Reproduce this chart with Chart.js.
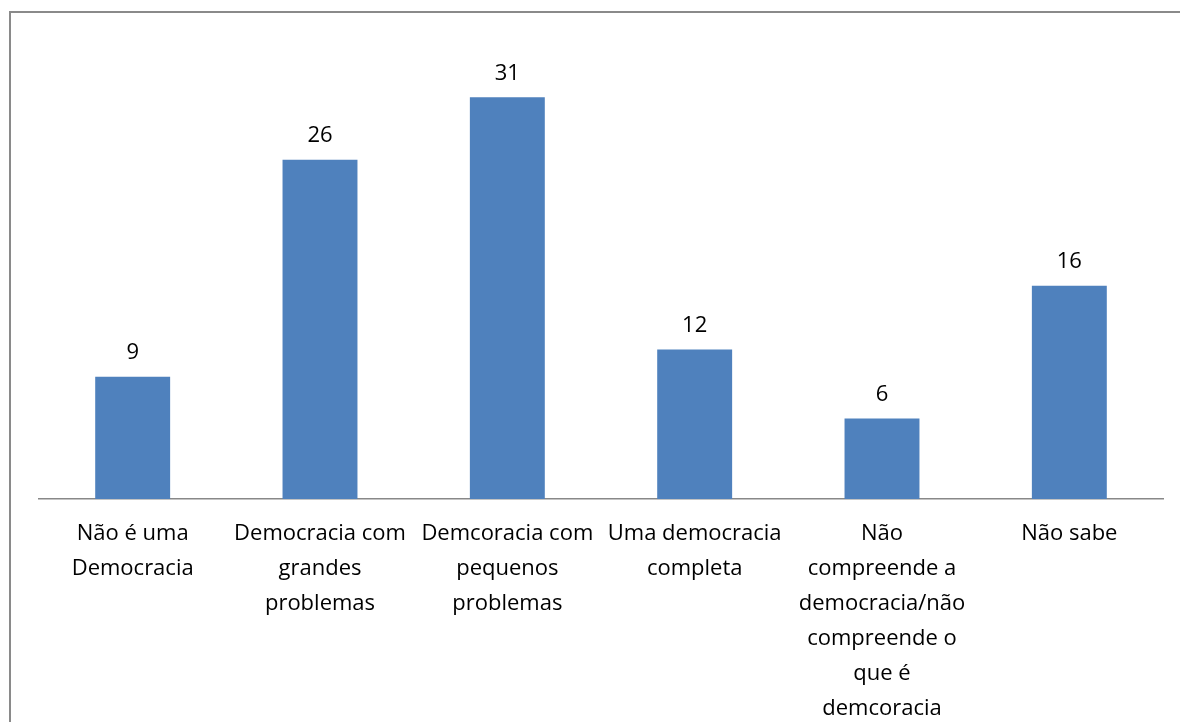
<!DOCTYPE html>
<html lang="pt">
<head>
<meta charset="UTF-8">
<title>Democracia</title>
<script src="https://cdn.jsdelivr.net/npm/chart.js"></script>
<style>
  html, body { margin: 0; padding: 0; background: #fff; }
  .wrap { position: relative; width: 1180px; height: 722px; overflow: hidden; }
  .frame { position: absolute; left: 9px; top: 11px; width: 1300px; height: 900px; border: 2px solid #8a8a8a; box-sizing: border-box; }
  canvas { position: absolute; left: 0; top: 0; }
</style>
</head>
<body>
<div class="wrap">
  <div class="frame"></div>
  <canvas id="barChart" width="1180" height="722"></canvas>
</div>
<script>
// categories (wrapped the way the original shows them)
var categories = [
    ["Não é uma", "Democracia"],
    ["Democracia com", "grandes", "problemas"],
    ["Demcoracia com", "pequenos", "problemas"],
    ["Uma democracia", "completa"],
    ["Não", "compreende a", "democracia/não", "compreende o", "que é", "demcoracia"],
    ["Não sabe"]
];
// percentages
var values = [9.4, 26.1, 30.9, 11.5, 6.2, 16.4];
var yMax = 35;

var fontFamily = "'Open Sans', 'Noto Sans', sans-serif";

// small plugin to write the value above each bar
var valueLabels = {
    id: 'valueLabels',
    afterDatasetsDraw: function (chart) {
        var ctx = chart.ctx;
        var meta = chart.getDatasetMeta(0);
        ctx.save();
        ctx.font = "22px " + fontFamily;
        ctx.fillStyle = "#000";
        ctx.textAlign = "center";
        ctx.textBaseline = "bottom";
        meta.data.forEach(function (bar, i) {
            ctx.fillText(Math.round(values[i]), bar.x, bar.y - 13);
        });
        ctx.restore();
    }
};

var ctx = document.getElementById("barChart").getContext("2d");
var myBarChart = new Chart(ctx, {
    type: 'bar',
    data: {
        labels: categories,
        datasets: [{
            data: values,
            backgroundColor: "#4F81BD",
            borderWidth: 0,
            barPercentage: 0.4,
            categoryPercentage: 1
        }]
    },
    options: {
        responsive: false,
        animation: false,
        layout: { padding: { left: 39, right: 17, top: 44, bottom: 0 } },
        plugins: {
            legend: { display: false },
            tooltip: { enabled: false }
        },
        scales: {
            x: {
                grid: { display: false },
                border: { display: true, color: "#888888", width: 1.5 },
                ticks: {
                    color: "#000",
                    maxRotation: 0,
                    autoSkip: false,
                    padding: 9,
                    font: { family: fontFamily, size: 22, lineHeight: 1.59 }
                },
                afterFit: function (scale) { scale.height = 223; }
            },
            y: {
                display: false,
                min: 0,
                max: yMax
            }
        }
    },
    plugins: [valueLabels]
});
</script>
</body>
</html>
